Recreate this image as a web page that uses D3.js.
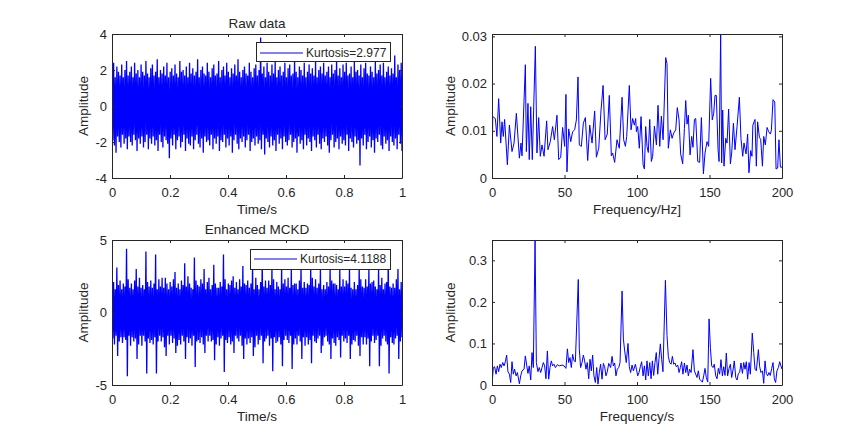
<!DOCTYPE html>
<html><head><meta charset="utf-8">
<script src="https://cdn.jsdelivr.net/npm/d3@7"></script>
<style>
body{margin:0;background:#fff}
text{font-family:Arial,"Liberation Sans",Helvetica,sans-serif;fill:#262626}
</style>
</head><body>
<svg id="c" width="865" height="436"></svg>
<script>
// ---------- data ----------
// envelope of the raw time signal: per-bin upper / lower extremes (180 bins over 0..1 s)
const rawHi = [1.8,2.4,1.6,2.2,1.9,1.7,2.3,1.6,2.0,2.5,
1.7,1.9,2.2,1.6,2.4,1.8,2.0,1.6,2.3,1.9,
1.7,2.5,1.8,1.6,2.1,2.3,1.7,1.9,2.6,1.6,
2.0,1.8,2.2,1.7,2.4,1.6,1.9,2.1,1.7,2.3,
1.8,1.6,2.5,1.9,2.0,1.7,2.2,1.6,2.4,1.8,
2.1,1.7,1.9,2.6,1.6,2.0,2.2,1.8,1.7,2.4,
1.9,1.6,2.1,2.3,1.7,1.8,2.5,1.6,2.0,2.2,
1.7,2.4,1.9,1.6,2.1,1.8,2.3,1.7,2.6,1.9,
1.6,2.0,2.2,1.8,1.7,2.4,1.9,1.6,2.1,2.3,
1.7,2.0,3.8,1.8,2.2,1.6,2.4,1.9,1.7,2.3,
1.8,2.5,1.6,2.0,2.2,1.7,1.9,2.4,1.6,2.1,
2.3,1.7,1.8,2.6,1.9,1.6,2.2,2.0,1.7,2.4,
1.6,1.9,2.3,1.8,2.1,1.7,2.5,1.6,2.0,2.2,
1.8,2.4,1.7,1.9,2.2,1.6,2.3,1.8,2.0,2.6,
1.7,2.1,1.6,2.3,1.9,2.4,1.7,1.8,2.2,1.6,
2.5,1.9,2.0,1.7,2.3,1.6,2.1,2.4,1.8,1.7,
2.2,1.9,1.6,2.5,1.8,2.0,2.3,1.7,2.4,1.6,
1.9,2.2,1.7,2.1,1.8,2.8,1.6,2.3,2.0,2.4];
const rawLo = [-1.9,-2.2,-2.6,-1.7,-2.0,-2.3,-1.6,-2.1,-1.8,-2.4,
-1.7,-2.0,-2.2,-1.6,-1.9,-2.5,-1.8,-2.1,-1.7,-2.3,
-2.0,-1.6,-2.4,-1.8,-2.1,-1.7,-2.2,-1.9,-2.5,-1.6,
-2.0,-2.3,-1.7,-1.9,-2.1,-2.9,-1.8,-2.2,-1.6,-2.4,
-1.9,-1.7,-2.3,-2.0,-1.6,-2.5,-1.8,-2.1,-2.2,-1.7,
-2.4,-1.9,-1.6,-2.1,-2.3,-1.8,-2.6,-1.7,-2.0,-1.9,
-2.2,-1.6,-2.4,-1.8,-2.1,-1.7,-2.5,-1.9,-2.0,-1.6,
-2.3,-1.8,-2.2,-1.7,-2.6,-1.9,-1.6,-2.1,-2.4,-1.8,
-2.0,-1.7,-2.3,-1.9,-1.6,-2.5,-2.0,-1.8,-2.2,-1.7,
-2.1,-1.9,-2.4,-1.6,-2.7,-1.8,-2.0,-2.3,-1.7,-2.2,
-1.9,-2.5,-1.6,-2.1,-1.8,-2.4,-1.7,-2.0,-2.2,-1.9,
-1.6,-2.3,-2.0,-1.8,-2.6,-1.7,-2.1,-1.9,-2.4,-1.6,
-2.2,-1.8,-2.0,-2.5,-1.7,-1.9,-2.3,-1.6,-2.1,-2.4,
-1.8,-2.0,-1.7,-2.2,-2.6,-1.9,-1.6,-2.3,-2.0,-1.8,
-2.4,-1.7,-2.1,-1.9,-2.2,-1.6,-2.5,-1.8,-2.0,-2.3,
-1.7,-2.1,-1.9,-3.3,-1.8,-2.2,-1.6,-2.4,-2.0,-1.7,
-2.3,-1.9,-2.6,-1.8,-2.0,-1.6,-2.2,-2.4,-1.7,-2.1,
-1.9,-2.5,-1.7,-2.0,-2.2,-1.8,-2.4,-1.6,-2.1,-2.5];
// envelope of the enhanced MCKD signal (impulse every 1/30 s = every 6th bin)
const mckdHi = [1.7,2.1,1.6,3.1,1.9,2.2, 1.6,2.0,1.8,4.4,2.3,1.7, 2.0,1.6,2.2,3.0,1.8,2.4,
1.7,1.9,1.6,4.2,2.1,1.8, 2.2,1.7,2.0,4.0,1.6,2.3, 1.8,2.4,1.7,2.4,2.0,1.6,
2.1,1.8,2.3,2.8,1.7,2.0, 1.6,2.2,1.9,3.4,1.8,2.5, 2.0,1.7,1.6,3.8,2.2,1.9,
1.8,2.3,2.0,3.0,1.6,2.1, 2.4,1.6,1.9,3.3,2.0,1.7, 1.7,2.1,1.8,4.0,2.3,1.6,
2.0,1.9,2.2,2.5,1.7,2.1, 1.6,2.3,1.8,3.2,2.0,1.9, 2.2,1.7,2.0,3.3,1.6,2.4,
1.9,1.6,2.1,3.6,1.8,2.2, 1.7,2.2,1.9,3.1,2.3,1.6, 2.1,1.8,1.6,3.2,2.0,2.3,
1.8,2.4,1.7,3.0,1.9,2.0, 2.0,1.6,2.2,3.2,1.7,2.1, 1.7,2.0,1.9,3.1,2.4,1.8,
2.3,1.7,2.0,3.0,1.6,1.9, 1.6,2.1,1.8,3.1,2.2,2.0, 2.0,1.9,1.6,3.0,1.8,2.3,
1.8,2.2,2.0,3.0,1.7,1.6, 2.1,1.6,1.9,3.2,2.3,1.8, 1.7,2.3,1.8,3.0,2.0,2.1,
2.2,1.8,1.6,3.0,1.9,2.4, 1.6,2.0,2.1,3.7,1.8,1.7, 2.0,1.7,2.3,3.0,1.6,2.1];
const mckdLo = [-1.8,-2.2,-1.6,-3.0,-2.0,-1.7, -2.1,-1.7,-1.9,-4.4,-1.6,-2.3, -1.7,-2.0,-1.8,-3.2,-2.2,-1.6,
-2.3,-1.6,-2.0,-4.2,-1.8,-2.1, -1.9,-2.2,-1.7,-4.2,-2.0,-1.6, -2.0,-1.7,-2.4,-3.0,-1.6,-2.2,
-1.6,-2.1,-1.8,-2.8,-2.3,-1.9, -2.2,-1.6,-2.0,-3.2,-1.7,-2.1, -1.8,-2.3,-1.6,-3.75,-2.0,-1.9,
-2.1,-1.7,-2.2,-2.8,-1.6,-2.0, -1.6,-2.0,-1.9,-3.3,-2.2,-1.7, -2.3,-1.8,-1.6,-4.1,-1.9,-2.1,
-1.7,-2.2,-2.0,-2.8,-1.6,-1.8, -2.0,-1.6,-2.3,-3.2,-1.8,-2.2, -1.8,-2.1,-1.7,-3.0,-2.4,-1.6,
-2.2,-1.9,-1.6,-3.5,-2.0,-1.8, -1.6,-2.3,-1.8,-4.05,-1.7,-2.1, -2.0,-1.7,-2.2,-3.7,-1.9,-1.6,
-1.9,-2.1,-1.6,-3.9,-2.2,-1.8, -2.2,-1.6,-2.0,-3.2,-1.7,-2.3, -1.7,-2.2,-1.9,-3.5,-1.6,-2.0,
-2.1,-1.8,-1.6,-2.8,-2.3,-1.7, -1.6,-2.0,-2.2,-3.2,-1.8,-2.1, -2.3,-1.7,-1.9,-3.1,-1.6,-2.0,
-1.8,-2.1,-1.6,-3.2,-2.2,-1.9, -2.0,-1.6,-2.3,-3.0,-1.7,-2.2, -1.7,-2.2,-1.8,-3.7,-2.0,-1.6,
-2.1,-1.9,-1.6,-3.7,-2.3,-1.8, -1.6,-2.0,-2.2,-4.2,-1.7,-2.1, -2.2,-1.8,-1.6,-3.2,-2.0,-1.7];
// spectrum of raw signal [frequency Hz, amplitude]
const rawSpectrum = [[0,0],[0.5,0.0130],[2.3,0.0126],[3.4,0.0088],[4.6,0.0168],[6.0,0.0074],[6.9,0.0119],[7.8,0.0088],[8.7,0.0124],[10.6,0.0028],
[12.0,0.0112],[13.8,0.0056],[15.2,0.0074],[16.8,0.0137],[18.9,0.0042],[20.0,0.0074],[20.7,0.0047],[23.0,0.0240],[23.7,0.0056],[24.8,0.0158],
[25.7,0.0039],[26.7,0.0151],[27.8,0.0039],[29.9,0.0279],[31.0,0.0053],[32.2,0.0128],[33.3,0.0046],[34.5,0.0070],[35.9,0.0046],[37.7,0.0121],
[38.6,0.0060],[40.2,0.0077],[41.8,0.0109],[43.0,0.0081],[44.8,0.0133],[46.0,0.0039],[47.4,0.0044],[48.7,0.0107],[50.1,0.0067],[51.0,0.0177],
[51.7,0.0013],[52.9,0.0104],[54.3,0.0077],[55.6,0.0098],[57.0,0.0102],[58.2,0.0123],[59.3,0.0214],[60.2,0.0070],[61.6,0.0067],[63.0,0.0116],
[64.4,0.0128],[66.0,0.0037],[67.4,0.0112],[69.0,0.0074],[70.8,0.0142],[72.0,0.0044],[73.6,0.0063],[75.2,0.0144],[76.6,0.0196],[78.0,0.0081],
[79.5,0.0093],[80.9,0.0175],[82.3,0.0047],[83.2,0.0053],[84.6,0.0033],[86.2,0.0081],[87.8,0.0063],[89.7,0.0171],[90.8,0.0081],[92.0,0.0067],
[92.9,0.0088],[94.7,0.0196],[95.9,0.0102],[97.0,0.0126],[98.2,0.0112],[99.1,0.0126],
[99.6,0.0098],[100.5,0.0109],[101.6,0.0063],[102.8,0.0130],[104.2,0.0028],[105.1,0.0019],[106.0,0.0109],[106.9,0.0067],[107.8,0.0054],[108.8,0.0124],
[109.9,0.0035],[110.8,0.0046],[112.0,0.0110],[113.4,0.0070],[114.5,0.0154],[115.7,0.0067],[116.8,0.0131],[118.0,0.0081],[119.8,0.0255],[120.7,0.0242],
[121.6,0.0063],[123.0,0.0102],[124.2,0.0084],[125.3,0.0095],[126.7,0.0102],[127.8,0.0149],[129.0,0.0123],[130.1,0.0051],[131.5,0.0030],[132.7,0.0105],
[133.6,0.0164],[134.5,0.0114],[135.4,0.0133],[136.6,0.0049],[137.7,0.0088],[138.6,0.0065],[139.6,0.0124],[140.5,0.0126],[141.9,0.0035],[143.2,0.0033],
[144.4,0.0128],[145.8,0.0009],[146.9,0.0053],[148.3,0.0077],[149.4,0.0067],[150.8,0.0211],[151.9,0.0123],[152.9,0.0137],[153.8,0.0175],[154.7,0.0175],
[155.9,0.0060],[156.6,0.0035],[157.7,0.0305],[158.4,0.0032],[159.1,0.0144],[160.0,0.0025],[161.2,0.0084],[162.1,0.0074],[163.2,0.0146],[164.4,0.0030],
[165.3,0.0053],[166.5,0.0116],[167.6,0.0060],[169.0,0.0109],[170.6,0.0171],[171.7,0.0084],[172.9,0.0046],[173.8,0.0074],[175.2,0.0051],[176.3,0.0093],
[177.2,0.0011],[178.4,0.0058],[179.3,0.0046],[179.9,0.0112],[181.4,0.0124],[182.3,0.0025],[183.2,0.0119],[184.4,0.0086],[185.3,0.0082],[186.5,0.0025],
[187.4,0.0088],[188.5,0.0070],[189.7,0.0107],[190.8,0.0098],[192.0,0.0093],[192.7,0.0102],[193.8,0.0166],[195.0,0.0161],[195.9,0.0019],[197.0,0.0021],
[197.9,0.0081],[198.9,0.0023],[200,0.0023]];
// spectrum of enhanced MCKD signal
const mckdSpectrum = [[0,0.000],[0.9,0.042],[1.8,0.044],[2.8,0.026],[3.7,0.046],[4.6,0.032],[5.5,0.050],[6.4,0.042],[7.4,0.054],[8.3,0.046],
[9.2,0.056],[10.1,0.072],[11.0,0.032],[12.0,0.026],[12.9,0.006],[13.8,0.056],[14.7,0.026],[15.6,0.038],[16.6,0.022],[17.5,0.030],
[18.9,0.003],[19.8,0.022],[20.7,0.034],[22.1,0.038],[23.0,0.070],[23.9,0.048],[24.8,0.028],[25.7,0.046],[26.7,0.012],[27.6,0.078],
[28.5,0.042],[29.7,0.347],[30.6,0.054],[31.7,0.032],[32.6,0.042],[33.6,0.030],[34.5,0.042],[35.4,0.054],[36.3,0.046],[37.2,0.015],
[38.2,0.082],[39.1,0.014],[40.0,0.042],[40.9,0.058],[41.8,0.046],[42.8,0.050],[43.7,0.042],[45.1,0.049],[46.4,0.046],[48.3,0.048],
[49.7,0.046],[51.0,0.040],[52.0,0.087],[52.9,0.054],[53.8,0.066],[54.7,0.042],[55.6,0.074],[56.6,0.058],[57.5,0.056],[59.5,0.254],
[60.2,0.087],[61.1,0.042],[62.1,0.054],[63.0,0.072],[63.9,0.058],[64.8,0.038],[65.7,0.054],[66.7,0.015],[67.6,0.062],[68.5,0.034],
[69.4,0.072],[70.3,0.022],[71.3,0.006],[72.2,0.042],[73.1,0.002],[74.0,0.030],[74.9,0.050],[75.9,0.014],[76.8,0.052],[77.7,0.044],
[78.6,0.022],[79.5,0.032],[80.5,0.052],[81.8,0.042],[82.8,0.069],[83.7,0.046],[84.6,0.053],[85.5,0.022],[86.4,0.038],[87.4,0.042],
[88.3,0.054],[89.7,0.226],[90.6,0.111],[91.5,0.082],[92.6,0.054],[93.8,0.100],[94.7,0.044],[95.6,0.030],[96.6,0.048],[97.5,0.034],[98.9,0.050],
[99.6,0.038],[100.5,0.022],[101.4,0.030],[102.3,0.044],[103.2,0.056],[104.2,0.022],[105.1,0.046],[106.0,0.012],[106.9,0.058],[107.8,0.022],
[108.8,0.054],[109.7,0.015],[110.6,0.058],[111.5,0.023],[112.4,0.054],[113.3,0.078],[114.3,0.026],[115.2,0.064],[116.1,0.099],[117.0,0.062],
[117.9,0.032],[119.6,0.252],[120.7,0.119],[121.6,0.069],[122.5,0.054],[123.5,0.050],[124.4,0.069],[125.3,0.050],[126.2,0.053],[127.1,0.044],
[128.1,0.048],[129.0,0.030],[129.9,0.042],[130.8,0.056],[131.7,0.026],[132.7,0.053],[133.6,0.030],[134.5,0.048],[135.4,0.022],[136.3,0.038],
[137.3,0.030],[138.6,0.085],[139.6,0.034],[140.5,0.026],[141.4,0.018],[142.3,0.034],[143.2,0.014],[144.2,0.010],[145.1,0.007],[146.0,0.022],
[146.9,0.040],[147.8,0.018],[148.8,0.007],[149.7,0.159],[150.6,0.091],[151.5,0.046],[152.4,0.042],[153.3,0.050],[154.3,0.022],[155.2,0.015],
[156.1,0.040],[157.0,0.026],[157.9,0.061],[158.9,0.022],[159.8,0.044],[160.7,0.023],[161.6,0.077],[162.5,0.022],[163.5,0.040],[164.4,0.050],
[165.3,0.018],[166.2,0.036],[167.1,0.058],[168.1,0.018],[169.0,0.012],[169.9,0.028],[170.8,0.030],[171.7,0.053],[172.7,0.028],[173.6,0.054],
[174.5,0.038],[175.4,0.056],[176.3,0.014],[177.3,0.054],[178.2,0.026],[179.5,0.125],[180.5,0.078],[181.4,0.038],[182.3,0.034],[183.7,0.085],
[184.6,0.044],[185.5,0.030],[186.5,0.034],[187.4,0.004],[188.3,0.058],[189.2,0.028],[190.1,0.022],[191.0,0.030],[191.9,0.023],[192.9,0.040],
[193.8,0.054],[194.7,0.015],[195.6,0.006],[196.5,0.034],[197.5,0.042],[198.4,0.056],[200,0.038]];
const timeTicks = [0,0.2,0.4,0.6,0.8,1];
const freqTicks = [0,50,100,150,200];
const rawTimeTicksY = [-4,-2,0,2,4];
const mckdTimeTicksY = [-5,0,5];
const rawSpecTicksY = [0,0.01,0.02,0.03];
const mckdSpecTicksY = [0,0.1,0.2,0.3];

// ---------- drawing ----------
const svg = d3.select('#c');
const BLUE = '#0000ff', AX = '#262626';
const fmt = d => String(+(+d).toFixed(4));

function envelopePoints(hi, lo) {
  const n = hi.length, step = 1 / (2 * n - 1), pts = [];
  for (let i = 0; i < n; i++) {
    pts.push([2 * i * step, hi[i]]);
    pts.push([(2 * i + 1) * step, lo[i]]);
  }
  return pts;
}

let clipId = 0;
function panel(cfg) {
  const x = d3.scaleLinear().domain(cfg.xd).range([cfg.x0, cfg.x1]);
  const y = d3.scaleLinear().domain(cfg.yd).range([cfg.y1, cfg.y0]);
  const g = svg.append('g');
  const id = 'clip' + (clipId++);
  g.append('clipPath').attr('id', id).append('rect')
    .attr('x', cfg.x0).attr('y', cfg.y0).attr('width', cfg.x1 - cfg.x0 + 1).attr('height', cfg.y1 - cfg.y0 + 1);
  g.append('path').datum(cfg.data).attr('clip-path', `url(#${id})`)
    .attr('fill', 'none').attr('stroke', BLUE).attr('stroke-width', cfg.sw).attr('stroke-linejoin', 'miter')
    .attr('d', d3.line().x(d => x(d[0])).y(d => y(d[1])));

  const axes = [
    g.append('g').attr('transform', `translate(0,${cfg.y1})`)
      .call(d3.axisBottom(x).tickValues(cfg.xt).tickSizeInner(-3).tickSizeOuter(0).tickPadding(9.5).tickFormat(fmt)),
    g.append('g').attr('transform', `translate(0,${cfg.y0})`)
      .call(d3.axisTop(x).tickValues(cfg.xt).tickSizeInner(-3).tickSizeOuter(0).tickFormat('')),
    g.append('g').attr('transform', `translate(${cfg.x0},0)`)
      .call(d3.axisLeft(y).tickValues(cfg.yt).tickSizeInner(-3).tickSizeOuter(0).tickPadding(5).tickFormat(fmt)),
    g.append('g').attr('transform', `translate(${cfg.x1},0)`)
      .call(d3.axisRight(y).tickValues(cfg.yt).tickSizeInner(-3).tickSizeOuter(0).tickFormat(''))
  ];
  axes.forEach(a => {
    a.attr('font-family', null).attr('font-size', null);
    a.select('.domain').attr('stroke', AX);
    a.selectAll('.tick line').attr('stroke', AX);
    a.selectAll('.tick text').attr('fill', AX).style('font-size', '13px');
  });

  const cx = (cfg.x0 + cfg.x1) / 2, cy = (cfg.y0 + cfg.y1) / 2;
  g.append('text').attr('x', cx).attr('y', cfg.y1 + 36).attr('text-anchor', 'middle')
    .style('font-size', '13.5px').text(cfg.xlabel);
  g.append('text').attr('transform', `translate(${cfg.x0 - cfg.ylabOff},${cy}) rotate(-90)`)
    .attr('text-anchor', 'middle').style('font-size', '13.5px').text('Amplitude');
  if (cfg.title) {
    g.append('text').attr('x', cx).attr('y', cfg.y0 - 6.5).attr('text-anchor', 'middle')
      .style('font-size', '13.5px').text(cfg.title);
  }
  if (cfg.legend) {
    const L = cfg.legend;
    g.append('rect').attr('x', L.x + 0.5).attr('y', L.y + 0.5).attr('width', L.w).attr('height', L.h)
      .attr('fill', '#fff').attr('stroke', AX).attr('stroke-width', 1);
    g.append('line').attr('x1', L.x + 4).attr('x2', L.x + 47).attr('y1', L.ly).attr('y2', L.ly)
      .attr('stroke', BLUE).attr('stroke-width', 1.2);
    g.append('text').attr('x', L.x + 50).attr('y', L.ly + 4).style('font-size', '12px').text(L.text);
  }
}

panel({x0: 112, x1: 402, y0: 34, y1: 178, xd: [0, 1], yd: [-4, 4], xt: timeTicks, yt: rawTimeTicksY,
  data: envelopePoints(rawHi, rawLo), sw: 1.3, title: 'Raw data', xlabel: 'Time/s', ylabOff: 24,
  legend: {x: 256, y: 42, w: 134, h: 19, ly: 53, text: 'Kurtosis=2.977'}});
panel({x0: 492, x1: 782, y0: 34, y1: 178, xd: [0, 200], yd: [0, 0.0305], xt: freqTicks, yt: rawSpecTicksY,
  data: rawSpectrum, sw: 1, xlabel: 'Frequency/Hz]', ylabOff: 37});
panel({x0: 112, x1: 402, y0: 240, y1: 385, xd: [0, 1], yd: [-5, 5], xt: timeTicks, yt: mckdTimeTicksY,
  data: envelopePoints(mckdHi, mckdLo), sw: 1.3, title: 'Enhanced MCKD', xlabel: 'Time/s', ylabOff: 24,
  legend: {x: 250, y: 249, w: 140, h: 20, ly: 259, text: 'Kurtosis=4.1188'}});
panel({x0: 492, x1: 782, y0: 240, y1: 385, xd: [0, 200], yd: [0, 0.349], xt: freqTicks, yt: mckdSpecTicksY,
  data: mckdSpectrum, sw: 1, xlabel: 'Frequency/s', ylabOff: 37});
</script>
</body></html>
